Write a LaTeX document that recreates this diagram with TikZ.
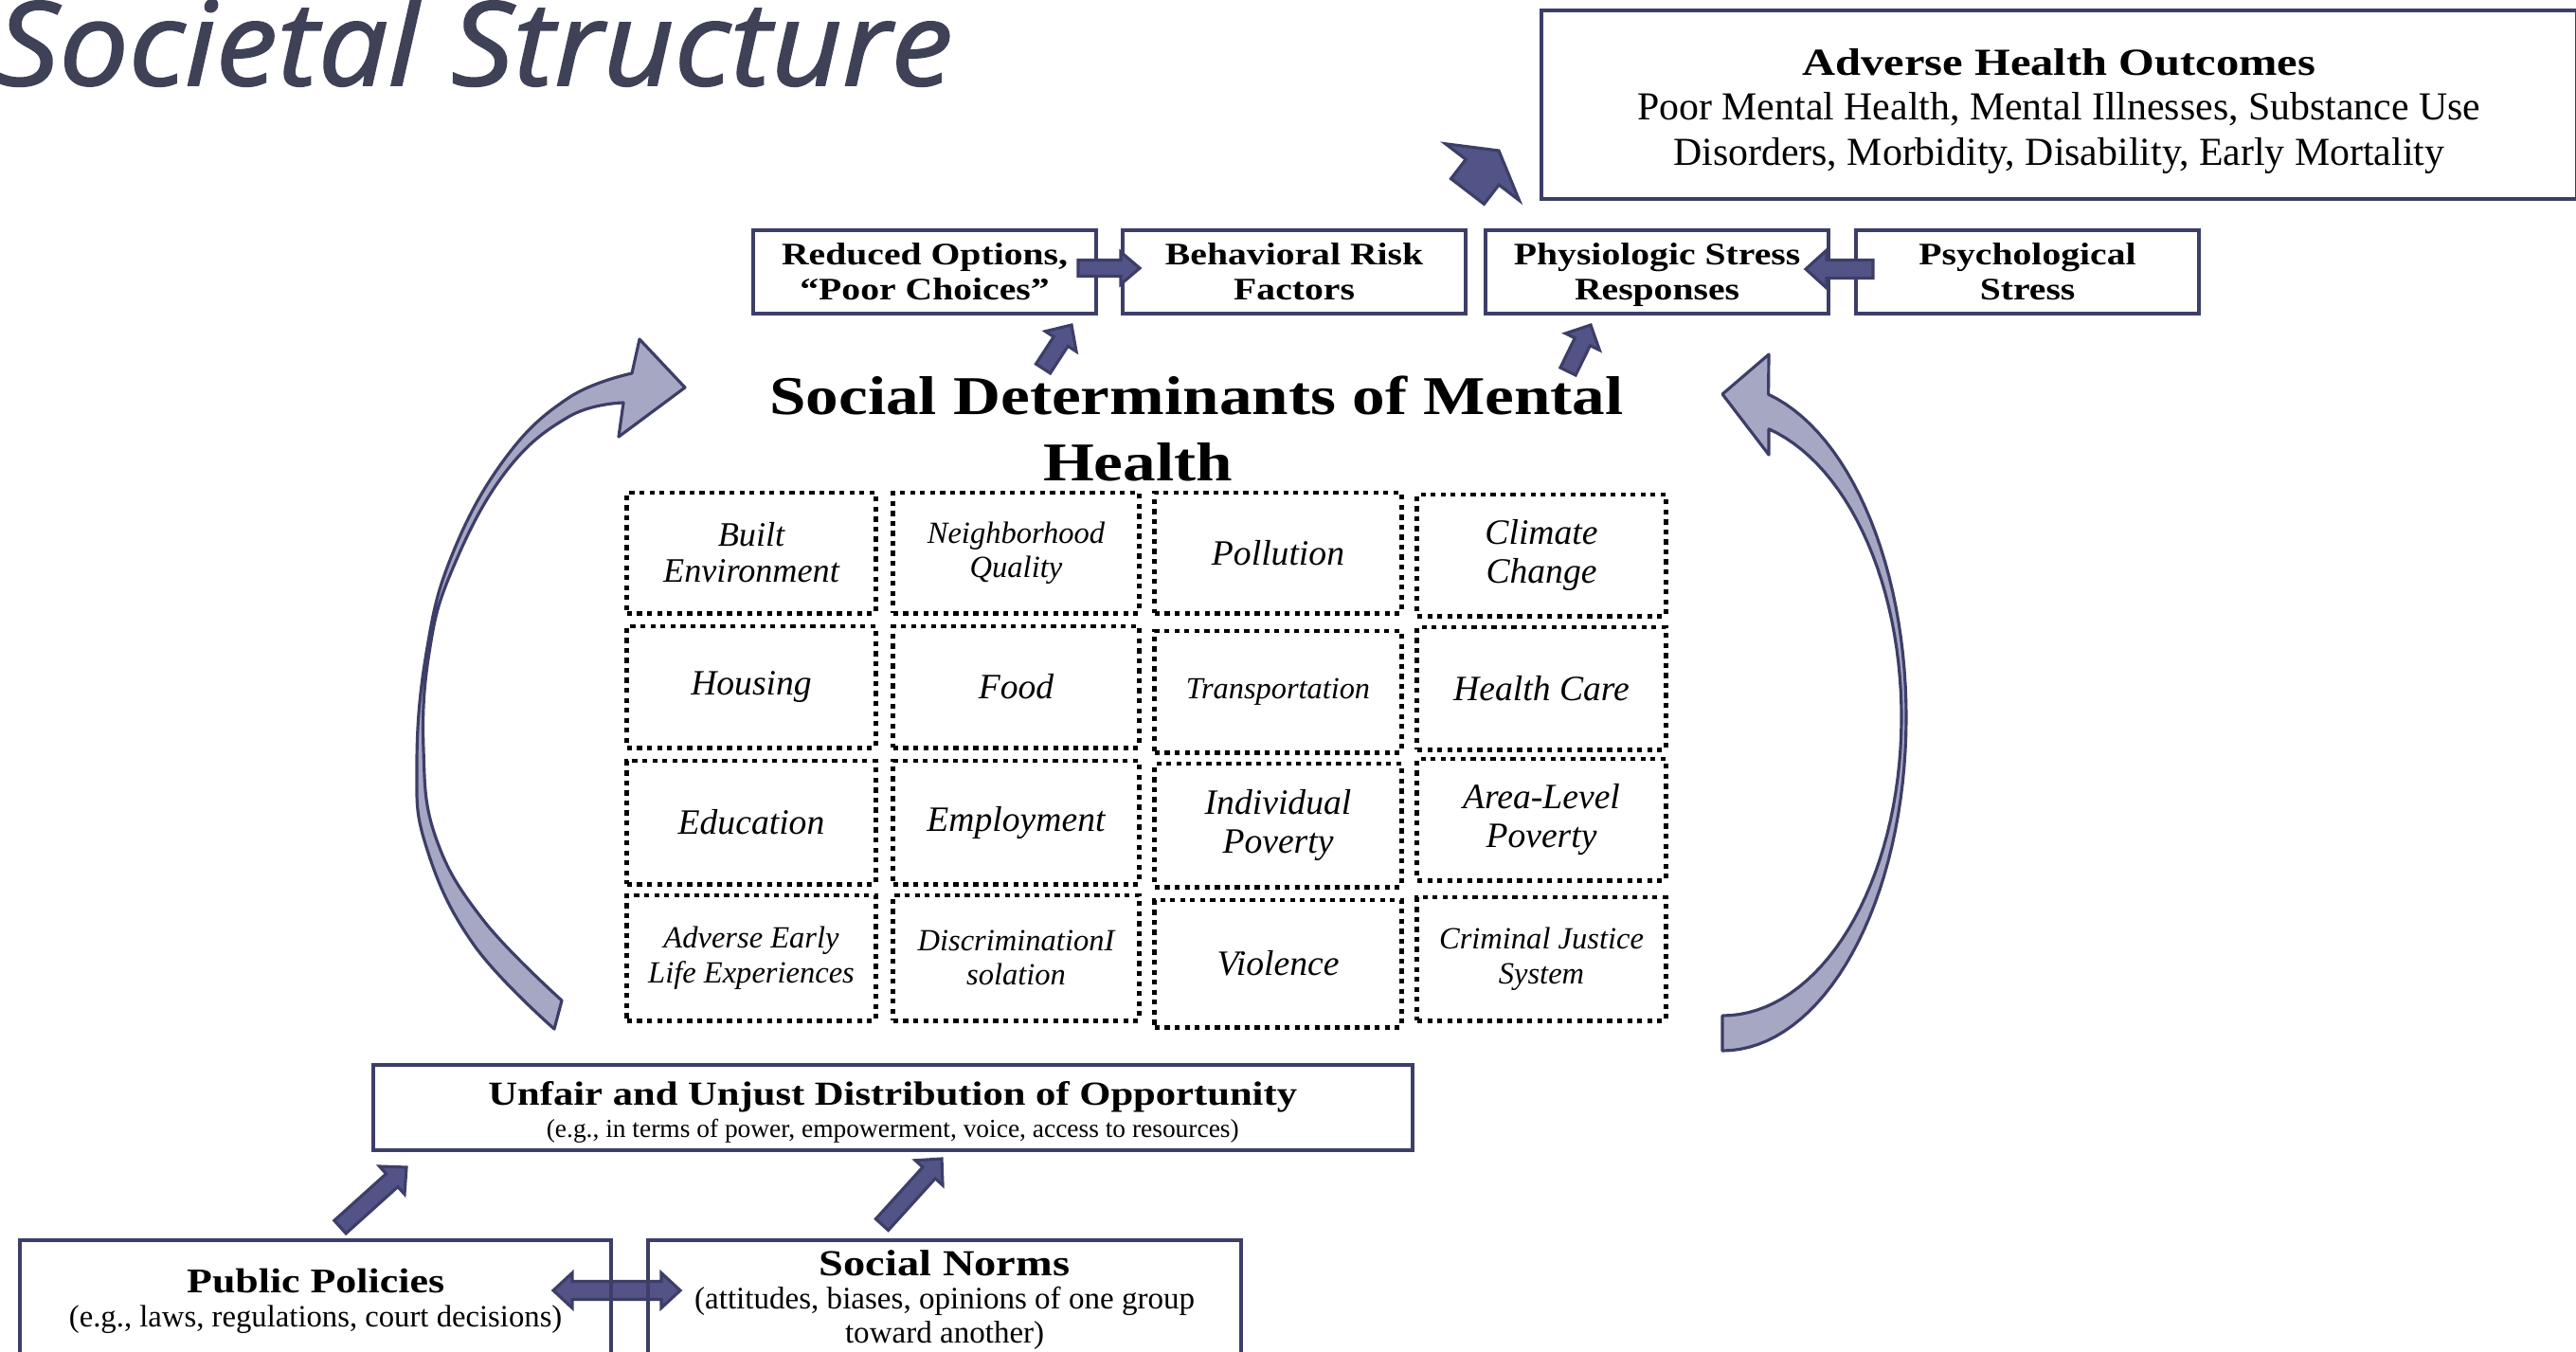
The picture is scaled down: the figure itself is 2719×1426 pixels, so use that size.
\documentclass[tikz,border=0pt]{standalone}
\usepackage{fontspec}
\setmainfont{Liberation Serif}
\newfontfamily\bfont{Liberation Serif}[FakeStretch=1.2]
\newfontfamily\titlef{Open Sans}[FakeStretch=1.06, FakeBold=1.5]
\usetikzlibrary{calc}
\definecolor{boxc}{HTML}{3D3E68}
\definecolor{arrfill}{HTML}{525487}
\definecolor{curvefill}{HTML}{A6A7C3}
\definecolor{titlec}{HTML}{3F4157}
\newcommand{\fsz}[2]{\fontsize{#1}{#2}\selectfont\lineskiplimit=-100pt\relax}
\newcommand{\blockarrow}[5]{%
  \coordinate (hb) at ($(#2)!#5!(#1)$);
  \filldraw[blk] ($(#1)!#3!90:(#2)$) -- ($(hb)!#3!-90:(#1)$) -- ($(hb)!#4!-90:(#1)$) -- (#2)
    -- ($(hb)!#4!90:(#1)$) -- ($(hb)!#3!90:(#1)$) -- ($(#1)!#3!-90:(#2)$) -- cycle;}
\newcommand{\cell}[7]{\node[cell, minimum width=#4, minimum height=#5, font=#6] (#1) at (#2,#3) {#7};}
\begin{document}
\begin{tikzpicture}[x=0.01cm,y=-0.01cm,
  sbox/.style={draw=boxc, line width=1.1pt, inner sep=0pt, align=center, anchor=north west},
  cell/.style={draw=black, line width=1.4pt, dash pattern=on 1.5pt off 1.5pt, inner sep=0pt, align=center},
  blk/.style={fill=arrfill, draw=boxc, line width=0.9pt, line join=miter},
  curv/.style={fill=curvefill, draw=boxc, line width=0.9pt, line join=round},
]
\useasboundingbox (0,0) rectangle (2719,1426);
\clip (0,0) rectangle (2719,1426);

% title
\node[anchor=base west, inner sep=0pt, text=titlec, font=\titlef\itshape\fontsize{35}{40}\selectfont] (title) at (-4,90) {Societal Structure};

% curved arrows
\filldraw[curv] plot[smooth, tension=0.7] coordinates {(585,1086) (500,997) (450,894) (440,807) (450,689) (477,586) (533,484) (600,420) (667,394)}
  -- (675,358) -- (723,409) -- (653,461) -- (658,425)
  -- plot[smooth, tension=0.7] coordinates {(658,425) (600,440) (533,499) (477,602) (453,689) (447,791) (460,884) (510,971) (593,1056)} -- cycle;
\filldraw[curv] plot[domain=-90:75.5, samples=60] ({1818+194*cos(\x)},{757-352*sin(\x)})
  -- (1867,374) -- (1818,416) -- (1867,480) -- (1867,453)
  -- plot[domain=74.9:-90, samples=60] ({1818+189*cos(\x)},{757-315*sin(\x)}) -- cycle;

% double arrow between policies and norms
\coordinate (dl) at (584,1362);
\coordinate (dr) at (718,1362);
\filldraw[blk] (dl) -- ++(20,-18.5) -- ++(0,9) -- ($(dr)+(-20,-9.5)$) -- ++(0,-9) -- (dr) -- ++(-20,18.5) -- ++(0,-9) -- ($(dl)+(20,9.5)$) -- ++(0,9) -- cycle;

% solid boxes
\node[sbox, minimum width=10.92cm, text height=1.63cm, text depth=0.36cm, font=\fsz{11.9}{13.4}] (adverse) at (1625,9)
  {{\bfont\bfseries\fontsize{11.5}{13.4}\selectfont Adverse Health Outcomes}\\Poor Mental Health, Mental Illnesses, Substance Use\\Disorders, Morbidity, Disability, Early Mortality};
\node[sbox, minimum width=3.62cm, text height=0.74cm, text depth=0.14cm, font=\bfont\bfseries\fsz{9.4}{10.8}] (reduced) at (793,241) {Reduced Options,\\“Poor Choices”};
\node[sbox, minimum width=3.62cm, text height=0.74cm, text depth=0.14cm, font=\bfont\bfseries\fsz{9.4}{10.8}] (behav) at (1183,241) {Behavioral Risk\\Factors};
\node[sbox, minimum width=3.62cm, text height=0.74cm, text depth=0.14cm, font=\bfont\bfseries\fsz{9.4}{10.8}] (physio) at (1566,241) {Physiologic Stress\\Responses};
\node[sbox, minimum width=3.62cm, text height=0.74cm, text depth=0.14cm, font=\bfont\bfseries\fsz{9.4}{10.8}] (psych) at (1957,241) {Psychological\\Stress};

\node[sbox, minimum width=10.96cm, text height=0.76cm, text depth=0.14cm, font=\fsz{7.8}{9.4}] (unfair) at (392,1122)
  {{\bfont\bfseries\fontsize{10.1}{12}\selectfont Unfair and Unjust Distribution of Opportunity}\\(e.g., in terms of power, empowerment, voice, access to resources)};
\node[sbox, minimum width=6.24cm, text height=0.91cm, text depth=0.72cm, font=\fsz{9.3}{10}] (public) at (19,1307)
  {{\bfont\bfseries\fontsize{10.4}{12}\selectfont Public Policies}\\(e.g., laws, regulations, court decisions)};
\node[sbox, minimum width=6.26cm, text height=1.08cm, text depth=0.55cm, font=\fsz{9.4}{10}] (norms) at (682,1307)
  {{\bfont\bfseries\fontsize{11}{13}\selectfont Social Norms}\\(attitudes, biases, opinions of one group\\toward another)};

% heading
\node[anchor=base, inner sep=0pt, align=center, font=\bfont\bfseries\fsz{16.4}{19.9}] (sdmh) at (1263,507)
  {Social Determinants of Mental\\\hspace*{-1.24cm}Health};

% grid of determinants
\cell{c11}{793}{583.5}{2.62cm}{1.27cm}{\itshape\fsz{10.3}{10.8}}{Built\\Environment}
\cell{c12}{1072.5}{583.5}{2.59cm}{1.27cm}{\itshape\fsz{9.25}{10.4}}{Neighborhood\\Quality}
\cell{c13}{1349}{583.5}{2.60cm}{1.27cm}{\itshape\fsz{10.7}{11.4}}{Pollution}
\cell{c14}{1627}{586}{2.62cm}{1.28cm}{\itshape\fsz{10.7}{11.7}}{Climate\\Change}
\cell{c21}{793}{725}{2.62cm}{1.28cm}{\itshape\fsz{10.7}{11.4}}{Housing}
\cell{c22}{1072.5}{725}{2.59cm}{1.28cm}{\itshape\fsz{10.7}{11.4}}{Food}
\cell{c23}{1349}{730}{2.60cm}{1.28cm}{\itshape\fsz{9.2}{10}}{Transportation}
\cell{c24}{1627}{726.5}{2.62cm}{1.29cm}{\itshape\fsz{10.7}{11.4}}{Health Care}
\cell{c31}{793}{868}{2.62cm}{1.30cm}{\itshape\fsz{10.7}{11.4}}{Education}
\cell{c32}{1072.5}{868}{2.59cm}{1.30cm}{\itshape\fsz{10.7}{11.4}}{Employment}
\cell{c33}{1349}{871}{2.60cm}{1.30cm}{\itshape\fsz{10.7}{11.7}}{Individual\\Poverty}
\cell{c34}{1627}{865}{2.62cm}{1.28cm}{\itshape\fsz{10.7}{11.7}}{Area-Level\\Poverty}
\cell{c41}{793}{1011}{2.62cm}{1.32cm}{\itshape\fsz{9.25}{10.4}}{Adverse Early\\Life Experiences}
\cell{c42}{1072.5}{1011}{2.59cm}{1.32cm}{\itshape\fsz{9.25}{10.4}}{DiscriminationI\\solation}
\cell{c43}{1349}{1017}{2.60cm}{1.34cm}{\itshape\fsz{10.7}{11.4}}{Violence}
\cell{c44}{1627}{1012}{2.62cm}{1.30cm}{\itshape\fsz{9.25}{10.4}}{Criminal Justice\\System}

% block arrows
\coordinate (a1t) at (1138,283); \coordinate (a1h) at (1203,283);
\blockarrow{a1t}{a1h}{0.085cm}{0.17cm}{0.2cm}
\coordinate (a2t) at (1977,284); \coordinate (a2h) at (1906,284);
\blockarrow{a2t}{a2h}{0.095cm}{0.2cm}{0.22cm}
\coordinate (a3t) at (1101,389); \coordinate (a3h) at (1131,343);
\blockarrow{a3t}{a3h}{0.09cm}{0.195cm}{0.207cm}
\coordinate (a4t) at (1655,392); \coordinate (a4h) at (1679,343);
\blockarrow{a4t}{a4h}{0.09cm}{0.2cm}{0.197cm}
\coordinate (a5t) at (1549,202); \coordinate (a5h) at (1582,159);
\blockarrow{a5t}{a5h}{0.22cm}{0.49cm}{0.285cm}
\coordinate (a6t) at (359,1295); \coordinate (a6h) at (429,1232);
\blockarrow{a6t}{a6h}{0.092cm}{0.198cm}{0.205cm}
\coordinate (a7t) at (931,1292.5); \coordinate (a7h) at (994,1223);
\blockarrow{a7t}{a7h}{0.089cm}{0.195cm}{0.2cm}
\end{tikzpicture}
\end{document}
